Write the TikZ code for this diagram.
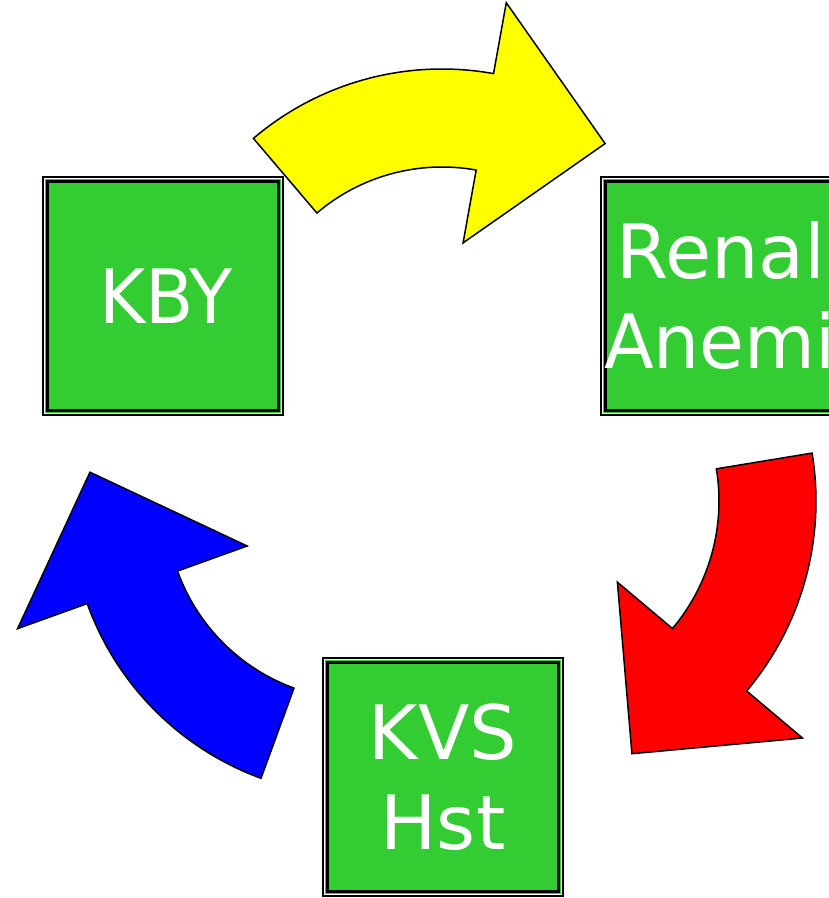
\documentclass[tikz,border=0pt]{standalone}
\usepackage{fontspec}
\setmainfont{DejaVu Sans}
\usetikzlibrary{calc}
\definecolor{boxgreen}{RGB}{51,204,51}
\definecolor{arryellow}{RGB}{255,255,0}
\definecolor{arrred}{RGB}{255,0,0}
\definecolor{arrblue}{RGB}{0,0,255}
\tikzset{
  box/.style={minimum width=231bp, minimum height=229bp, inner sep=0pt,
    fill=boxgreen, draw=black, line width=2.2bp,
    preaction={draw=black, line width=11bp},
    preaction={draw=white, line width=7.8bp},
    preaction={draw=boxgreen, line width=4.4bp},
    text=white, align=center, font=\fontsize{75bp}{90bp}\selectfont},
  bent/.style={draw=black, line width=1.5bp, line join=miter}
}
\begin{document}
\begin{tikzpicture}[x=1bp, y=-1bp]
\useasboundingbox (0,0) rectangle (829,898);
\clip (0,0) rectangle (829,898);
% arrow centres
\coordinate (cy) at (442,360);
\coordinate (cr) at (521,501);
\coordinate (cb) at (361,505);
% yellow arrow
\draw[bent, fill=arryellow] ($(cy)+(-130.4:291)$) arc[start angle=-130.4, end angle=-79.8, radius=291]
  -- ($(cy)+(-79.8:363)$) -- ($(cy)+(-53:271)$) -- ($(cy)+(-79.8:119)$)
  -- ($(cy)+(-79.8:193)$) arc[start angle=-79.8, end angle=-130.4, radius=193] -- cycle;
% red arrow
\draw[bent, fill=arrred] ($(cr)+(-9.35:295)$) arc[start angle=-9.35, end angle=40.1, radius=295]
  -- ($(cr)+(40.1:368)$) -- ($(cr)+(66.3:276)$) -- ($(cr)+(40.1:126)$)
  -- ($(cr)+(40.1:198)$) arc[start angle=40.1, end angle=-9.35, radius=198] -- cycle;
% blue arrow
\draw[bent, fill=arrblue] ($(cb)+(110.1:291)$) arc[start angle=110.1, end angle=160.2, radius=291]
  -- ($(cb)+(160.2:365)$) -- ($(cb)+(186.9:273)$) -- ($(cb)+(160.2:121)$)
  -- ($(cb)+(160.2:195)$) arc[start angle=160.2, end angle=110.1, radius=195] -- cycle;
% boxes
\node[box] (kby) at (163,296) {\hspace*{6bp}\scalebox{0.94}[1]{KBY}};
\node[box] (renal) at (721,296) {\makebox[0pt]{Renal}\\\makebox[0pt][l]{\hspace*{-117bp}\scalebox{0.97}[1]{Anemia}}};
\node[box] (kvs) at (443,777) {KVS\\Hst};
\end{tikzpicture}
\end{document}
